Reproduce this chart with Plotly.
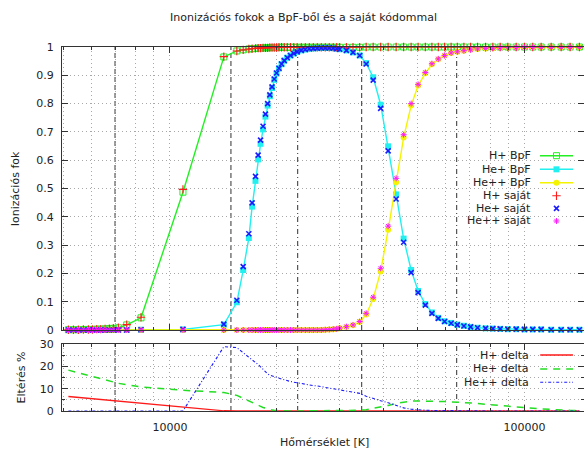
import math
import plotly.graph_objects as go

# ---------------- data ----------------
T = [5170, 5341, 5516, 5698, 5887, 6041, 6216, 6380, 6560, 6745,
     6923, 7151, 7551, 8286, 10880, 14190, 15440, 16090, 16690, 17050,
     17430, 17733, 18012, 18306, 18594, 18861, 19132, 19408, 19687, 19983,
     20297, 20642, 21007, 21420, 21878, 22352, 22851, 23467, 24084, 24717,
     25366, 26031, 26715, 27416, 28135, 28874, 29537, 30117, 31457, 32834,
     34293, 35771, 37432, 39297, 41255, 43453, 45617, 47887, 50119, 52517,
     54818, 57143, 59527, 62091, 64648, 67479, 70476, 73741, 77668, 81431,
     85427, 89745, 94770, 100000, 105530, 111440, 118930, 126900, 134520, 142880]

h_bpf = [0.001, 0.001, 0.001, 0.002, 0.002, 0.002, 0.003, 0.003, 0.004, 0.005,
         0.006, 0.008, 0.018, 0.043, 0.487, 0.965, 0.986, 0.990, 0.993, 0.994,
         0.995, 0.996, 0.996, 0.997, 0.997, 0.997, 0.998, 0.998, 0.998, 0.998,
         0.999, 0.999, 0.999, 0.999, 0.999, 0.999, 0.999, 0.999, 0.999, 0.999,
         0.999, 0.999, 0.999, 0.999, 0.999, 0.999, 0.999, 0.999, 0.999, 0.999,
         0.999, 1.0, 1.0, 1.0, 1.0, 1.0, 1.0, 1.0, 1.0, 1.0,
         1.0, 1.0, 1.0, 1.0, 1.0, 1.0, 1.0, 1.0, 1.0, 1.0,
         1.0, 1.0, 1.0, 1.0, 1.0, 1.0, 1.0, 1.0, 1.0, 1.0]

he1_bpf = [0.0, 0.0, 0.0, 0.0, 0.0, 0.0, 0.0, 0.0, 0.0, 0.0,
           0.0, 0.0, 0.0, 0.001, 0.002, 0.019, 0.098, 0.212, 0.325, 0.436,
           0.527, 0.603, 0.658, 0.709, 0.754, 0.793, 0.826, 0.855, 0.884, 0.906,
           0.924, 0.939, 0.952, 0.962, 0.970, 0.977, 0.983, 0.988, 0.991, 0.994,
           0.995, 0.996, 0.997, 0.997, 0.997, 0.996, 0.994, 0.992, 0.988, 0.981,
           0.970, 0.943, 0.893, 0.796, 0.649, 0.479, 0.323, 0.212, 0.138, 0.092,
           0.062, 0.043, 0.031, 0.025, 0.019, 0.015, 0.011, 0.008, 0.006, 0.005,
           0.004, 0.003, 0.003, 0.002, 0.002, 0.002, 0.001, 0.001, 0.001, 0.001]

he2_bpf = [0.0, 0.0, 0.0, 0.0, 0.0, 0.0, 0.0, 0.0, 0.0, 0.0,
           0.0, 0.0, 0.0, 0.0, 0.0, 0.0, 0.0, 0.0, 0.0, 0.0,
           0.0, 0.0, 0.0, 0.0, 0.0, 0.0, 0.0, 0.0, 0.0, 0.0,
           0.0, 0.0, 0.0, 0.0, 0.0, 0.0, 0.0, 0.0, 0.0, 0.0,
           0.0, 0.0, 0.0, 0.001, 0.002, 0.003, 0.004, 0.006, 0.011, 0.017,
           0.028, 0.055, 0.110, 0.208, 0.354, 0.522, 0.680, 0.793, 0.864, 0.907,
           0.939, 0.957, 0.970, 0.979, 0.983, 0.987, 0.990, 0.993, 0.995, 0.996,
           0.997, 0.998, 0.998, 0.998, 0.999, 0.999, 0.999, 0.999, 0.999, 0.999]

h_sajat = [0.001, 0.001, 0.001, 0.002, 0.002, 0.002, 0.003, 0.003, 0.004, 0.005,
           0.006, 0.008, 0.019, 0.045, 0.497, 0.966, 0.986, 0.990, 0.993, 0.994,
           0.995, 0.996, 0.996, 0.997, 0.997, 0.997, 0.998, 0.998, 0.998, 0.998,
           0.999, 0.999, 0.999, 0.999, 0.999, 0.999, 0.999, 0.999, 0.999, 0.999,
           0.999, 0.999, 0.999, 0.999, 0.999, 0.999, 0.999, 0.999, 0.999, 0.999,
           0.999, 1.0, 1.0, 1.0, 1.0, 1.0, 1.0, 1.0, 1.0, 1.0,
           1.0, 1.0, 1.0, 1.0, 1.0, 1.0, 1.0, 1.0, 1.0, 1.0,
           1.0, 1.0, 1.0, 1.0, 1.0, 1.0, 1.0, 1.0, 1.0, 1.0]

he1_sajat = [0.0, 0.0, 0.0, 0.0, 0.0, 0.0, 0.0, 0.0, 0.0, 0.0,
             0.0, 0.0, 0.0, 0.001, 0.002, 0.021, 0.105, 0.224, 0.340, 0.449,
             0.543, 0.618, 0.671, 0.720, 0.763, 0.800, 0.831, 0.859, 0.887, 0.908,
             0.925, 0.940, 0.952, 0.962, 0.970, 0.977, 0.983, 0.988, 0.991, 0.994,
             0.995, 0.996, 0.997, 0.997, 0.997, 0.996, 0.994, 0.992, 0.988, 0.981,
             0.970, 0.940, 0.883, 0.783, 0.633, 0.463, 0.310, 0.203, 0.132, 0.088,
             0.059, 0.041, 0.030, 0.024, 0.018, 0.014, 0.011, 0.008, 0.006, 0.005,
             0.004, 0.003, 0.003, 0.002, 0.002, 0.002, 0.001, 0.001, 0.001, 0.001]

he2_sajat = [0.0, 0.0, 0.0, 0.0, 0.0, 0.0, 0.0, 0.0, 0.0, 0.0,
             0.0, 0.0, 0.0, 0.0, 0.0, 0.0, 0.0, 0.0, 0.0, 0.0,
             0.0, 0.0, 0.0, 0.0, 0.0, 0.0, 0.0, 0.0, 0.0, 0.0,
             0.0, 0.0, 0.0, 0.0, 0.0, 0.0, 0.0, 0.0, 0.0, 0.0,
             0.0, 0.0, 0.0, 0.001, 0.002, 0.003, 0.004, 0.007, 0.012, 0.018,
             0.030, 0.059, 0.116, 0.218, 0.367, 0.536, 0.690, 0.800, 0.868, 0.910,
             0.941, 0.958, 0.970, 0.979, 0.983, 0.987, 0.990, 0.993, 0.995, 0.996,
             0.997, 0.998, 0.998, 0.998, 0.999, 0.999, 0.999, 0.999, 0.999, 0.999]

h_delta = [6.5, 6.3, 6.1, 5.9, 5.8, 5.6, 5.4, 5.3, 5.1, 4.9,
           4.7, 4.5, 4.2, 3.6, 2.0, 0.1, 0.0, 0.0, 0.0, 0.0,
           0.0, 0.0, 0.0, 0.0, 0.0, 0.0, 0.0, 0.0, 0.0, 0.0,
           0.0, 0.0, 0.0, 0.0, 0.0, 0.0, 0.0, 0.0, 0.0, 0.0,
           0.0, 0.0, 0.0, 0.0, 0.0, 0.0, 0.0, 0.0, 0.0, 0.0,
           0.0, 0.0, 0.0, 0.0, 0.0, 0.0, 0.0, 0.0, 0.0, 0.0,
           0.0, 0.0, 0.0, 0.0, 0.0, 0.0, 0.0, 0.0, 0.0, 0.0,
           0.0, 0.0, 0.0, 0.0, 0.0, 0.0, 0.0, 0.0, 0.0, 0.0]

he1_delta = [18.3, 17.7, 17.1, 16.5, 15.8, 15.3, 14.8, 14.3, 13.8, 13.3,
             12.8, 12.4, 11.8, 10.8, 9.3, 8.3, 7.0, 5.6, 4.5, 3.9,
             3.2, 2.6, 2.1, 1.6, 1.2, 0.9, 0.6, 0.4, 0.3, 0.2,
             0.1, 0.0, 0.0, 0.0, 0.0, 0.0, 0.0, 0.0, 0.0, 0.0,
             0.0, 0.0, 0.0, 0.0, 0.0, 0.0, 0.0, 0.0, 0.0, 0.1,
             0.3, 0.6, 1.1, 1.7, 2.5, 3.4, 4.0, 4.4, 4.5, 4.5,
             4.4, 4.3, 4.2, 4.1, 4.0, 3.8, 3.6, 3.4, 3.0, 2.7,
             2.4, 2.1, 1.8, 1.5, 1.2, 0.9, 0.7, 0.4, 0.3, 0.2]

he2_delta = [0.0, 0.0, 0.0, 0.0, 0.0, 0.0, 0.0, 0.0, 0.0, 0.0,
             0.0, 0.0, 0.0, 0.0, 0.0, 28.8, 28.4, 26.1, 24.2, 23.1,
             21.9, 20.8, 19.8, 18.7, 17.6, 16.6, 16.1, 15.7, 15.3, 14.9,
             14.6, 14.3, 14.0, 13.5, 13.2, 12.9, 12.6, 12.2, 11.8, 11.6,
             11.4, 11.2, 10.9, 10.6, 10.3, 10.0, 9.6, 9.3, 8.8, 8.4,
             7.9, 6.6, 5.5, 4.6, 3.7, 2.5, 1.4, 0.8, 0.5, 0.35,
             0.25, 0.2, 0.1, 0.0, 0.0, 0.0, 0.0, 0.0, 0.0, 0.0,
             0.0, 0.0, 0.0, 0.0, 0.0, 0.0, 0.0, 0.0, 0.0, 0.0]

# vertical reference lines (temperature, style)
vline_T = [7000, 14860, 22925, 34740, 64390]
vline_dash = ["dash", "dash", "dashdot", "dash", "dashdot"]

x_major = [10000, 100000]
x_major_text = ["10000", "100000"]
x_minor = [5000, 6000, 7000, 8000, 9000, 20000, 30000, 40000, 50000,
           60000, 70000, 80000, 90000]
y_top_ticks = [0, 0.1, 0.2, 0.3, 0.4, 0.5, 0.6, 0.7, 0.8, 0.9, 1]
y_top_text = ["0", "0.1", "0.2", "0.3", "0.4", "0.5", "0.6", "0.7", "0.8", "0.9", "1"]
y_bot_ticks = [0, 10, 20, 30]
y_bot_minor = [5, 15, 25]

# ---------------- styling ----------------
FONT = "DejaVu Sans"
TXT = "#222222"
AX = "#333333"
GRID = "#a8a8a8"
GDASH = "1px,3px"
GREEN = "#22f022"
CYAN = "#22f0f0"
YELLOW = "#f4f400"
RED = "#ff1a1a"
BLUE = "#1a1aff"
MAGENTA = "#ff1aff"
DGREEN = "#22dd22"

DASH = "5px,3px"
DASHDOT = "5px,3px,1px,3px"

fig = go.Figure()

def top_trace(y, mode, color, symbol, size, lw=1.0, mlw=1.0, name=""):
    fig.add_trace(go.Scatter(
        x=T, y=y, mode=mode, name=name, showlegend=False, cliponaxis=False,
        xaxis="x", yaxis="y",
        line=dict(color=color, width=lw),
        marker=dict(symbol=symbol, size=size, color=color,
                    line=dict(color=color, width=mlw)),
    ))

top_trace(h_bpf, "lines+markers", GREEN, "square-open", 6, lw=1.4, mlw=1.0, name="H+ BpF")
top_trace(he1_bpf, "lines+markers", CYAN, "square", 6, lw=1.4, mlw=0, name="He+ BpF")
top_trace(he2_bpf, "lines+markers", YELLOW, "circle", 6, lw=1.4, mlw=0, name="He++ BpF")
top_trace(h_sajat, "markers", RED, "cross-thin-open", 6, mlw=1.1, name="H+ saját")
top_trace(he1_sajat, "markers", BLUE, "x-thin-open", 5, mlw=1.6, name="He+ saját")
top_trace(he2_sajat, "markers", MAGENTA, "asterisk-open", 5, mlw=1.0, name="He++ saját")

fig.add_trace(go.Scatter(x=T, y=h_delta, mode="lines", name="H+ delta", showlegend=False,
                         xaxis="x2", yaxis="y2", cliponaxis=False,
                         line=dict(color=RED, width=1.3)))
fig.add_trace(go.Scatter(x=T, y=he1_delta, mode="lines", name="He+ delta", showlegend=False,
                         xaxis="x2", yaxis="y2", cliponaxis=False,
                         line=dict(color=DGREEN, width=1.5, dash="7px,6px")))
fig.add_trace(go.Scatter(x=T, y=he2_delta, mode="lines", name="He++ delta", showlegend=False,
                         xaxis="x2", yaxis="y2", cliponaxis=False,
                         line=dict(color=BLUE, width=1.1, dash="3px,2px,1px,2px")))

# ---------------- manual legends (gnuplot style: text left, key right) ----------------
top_rows = [0.6159, 0.5678, 0.5205, 0.4746, 0.4300, 0.3852]   # y3 fractions of the top panel
leg_names = ["H+ BpF", "He+ BpF", "He++ BpF", "H+ saját", "He+ saját", "He++ saját"]
leg_line = [GREEN, CYAN, YELLOW, None, None, None]
leg_sym = ["square-open", "square", "circle", "cross-thin-open", "x-thin-open", "asterisk-open"]
leg_col = [GREEN, CYAN, YELLOW, RED, BLUE, MAGENTA]
leg_size = [6, 6, 6, 6, 5, 5]
leg_mlw = [1.0, 0, 0, 1.1, 1.6, 1.0]
KX0, KX1, KXM, TXR = 0.9157, 0.9789, 0.9473, 0.9017

shapes = []
annotations = []
for i, nm in enumerate(leg_names):
    yv = top_rows[i]
    if leg_line[i]:
        shapes.append(dict(type="line", xref="x3", yref="y3", x0=KX0, x1=KX1, y0=yv, y1=yv,
                           line=dict(color=leg_line[i], width=1.4)))
    fig.add_trace(go.Scatter(x=[KXM], y=[yv], mode="markers", showlegend=False,
                             xaxis="x3", yaxis="y3", hoverinfo="skip", cliponaxis=False,
                             marker=dict(symbol=leg_sym[i], size=leg_size[i], color=leg_col[i],
                                         line=dict(color=leg_col[i], width=leg_mlw[i]))))
    annotations.append(dict(xref="x3", yref="y3", x=TXR, y=yv, text=nm, showarrow=False,
                            xanchor="right", yanchor="middle",
                            font=dict(family=FONT, size=11, color=TXT)))

bot_rows = [0.1538, 0.1154, 0.0788]
bot_names = ["H+ delta", "He+ delta", "He++ delta"]
bot_col = [RED, DGREEN, BLUE]
bot_dash = ["solid", "7px,6px", "3px,2px,1px,2px"]
bot_w = [1.3, 1.5, 1.1]
for i, nm in enumerate(bot_names):
    yv = bot_rows[i]
    shapes.append(dict(type="line", xref="paper", yref="paper", x0=0.9161, x1=0.9789,
                       y0=yv, y1=yv, line=dict(color=bot_col[i], width=bot_w[i], dash=bot_dash[i])))
    annotations.append(dict(xref="paper", yref="paper", x=0.8979, y=yv, text=nm, showarrow=False,
                            xanchor="right", yanchor="middle",
                            font=dict(family=FONT, size=11, color=TXT)))

# vertical reference lines in both panels
for tv, ds in zip(vline_T, vline_dash):
    d = DASH if ds == "dash" else DASHDOT
    for xr_, yr_ in (("x", "y domain"), ("x2", "y2 domain")):
        shapes.append(dict(type="line", xref=xr_, yref=yr_, x0=tv, x1=tv, y0=0, y1=1,
                           layer="below", line=dict(color="#303030", width=1, dash=d)))

# titles
annotations += [
    dict(xref="paper", yref="paper", x=0.4626, y=1.0824, text="Inonizációs fokok a BpF-ből és a saját kódommal",
         showarrow=False, xanchor="center", yanchor="middle", font=dict(family=FONT, size=11, color=TXT)),
    dict(xref="paper", yref="paper", x=0.502, y=-0.0852, text="Hőmérséklet [K]",
         showarrow=False, xanchor="center", yanchor="middle", font=dict(family=FONT, size=11, color=TXT)),
    dict(xref="paper", yref="paper", x=-0.0891, y=0.6107, text="Ionizációs fok", textangle=-90,
         showarrow=False, xanchor="center", yanchor="middle", font=dict(family=FONT, size=11, color=TXT)),
    dict(xref="paper", yref="paper", x=-0.0776, y=0.0935, text="Eltérés %", textangle=-90,
         showarrow=False, xanchor="center", yanchor="middle", font=dict(family=FONT, size=11, color=TXT)),
]

xr = [math.log10(4960), math.log10(147200)]
common_x = dict(type="log", range=xr, tickvals=x_major, ticks="inside", ticklen=6, tickcolor=AX,
                showline=True, linecolor=AX, linewidth=1, mirror="ticks",
                showgrid=True, gridcolor=GRID, griddash=GDASH, gridwidth=1, zeroline=False,
                tickfont=dict(family=FONT, size=11, color=TXT),
                minor=dict(tickvals=x_minor, ticks="inside", ticklen=3, tickcolor=AX,
                           showgrid=True, gridcolor=GRID, griddash=GDASH, gridwidth=1))

fig.update_layout(
    width=584, height=451,
    margin=dict(l=62, r=0, t=47, b=40),
    paper_bgcolor="white", plot_bgcolor="white",
    showlegend=False,
    font=dict(family=FONT, size=11, color=TXT),
    xaxis=dict(common_x, domain=[0, 1], anchor="y", showticklabels=False),
    xaxis2=dict(common_x, domain=[0, 1], anchor="y2", matches="x", showticklabels=True,
                ticktext=x_major_text, ticklabelstandoff=6),
    yaxis=dict(domain=[0.2225, 1], anchor="x", range=[0, 1], tickvals=y_top_ticks, ticktext=y_top_text,
               ticks="inside", ticklen=6, tickcolor=AX, showline=True, linecolor=AX, linewidth=1,
               mirror="ticks", showgrid=True, gridcolor=GRID, griddash=GDASH, zeroline=False,
               tickfont=dict(family=FONT, size=11, color=TXT), ticklabelstandoff=5),
    yaxis2=dict(domain=[0, 0.184], anchor="x2", range=[0, 30], tickvals=y_bot_ticks,
                ticks="inside", ticklen=6, tickcolor=AX, showline=True, linecolor=AX, linewidth=1,
                mirror="ticks", showgrid=True, gridcolor=GRID, griddash=GDASH, zeroline=False,
                tickfont=dict(family=FONT, size=11, color=TXT), ticklabelstandoff=5,
                minor=dict(tickvals=y_bot_minor, ticks="inside", ticklen=3, tickcolor=AX,
                           showgrid=True, gridcolor=GRID, griddash=GDASH)),
    xaxis3=dict(overlaying="x", anchor="y3", range=[0, 1], visible=False, fixedrange=True),
    yaxis3=dict(overlaying="y", anchor="x3", range=[0, 1], visible=False, fixedrange=True),
    shapes=shapes,
    annotations=annotations,
)

fig.write_html("out.html")
